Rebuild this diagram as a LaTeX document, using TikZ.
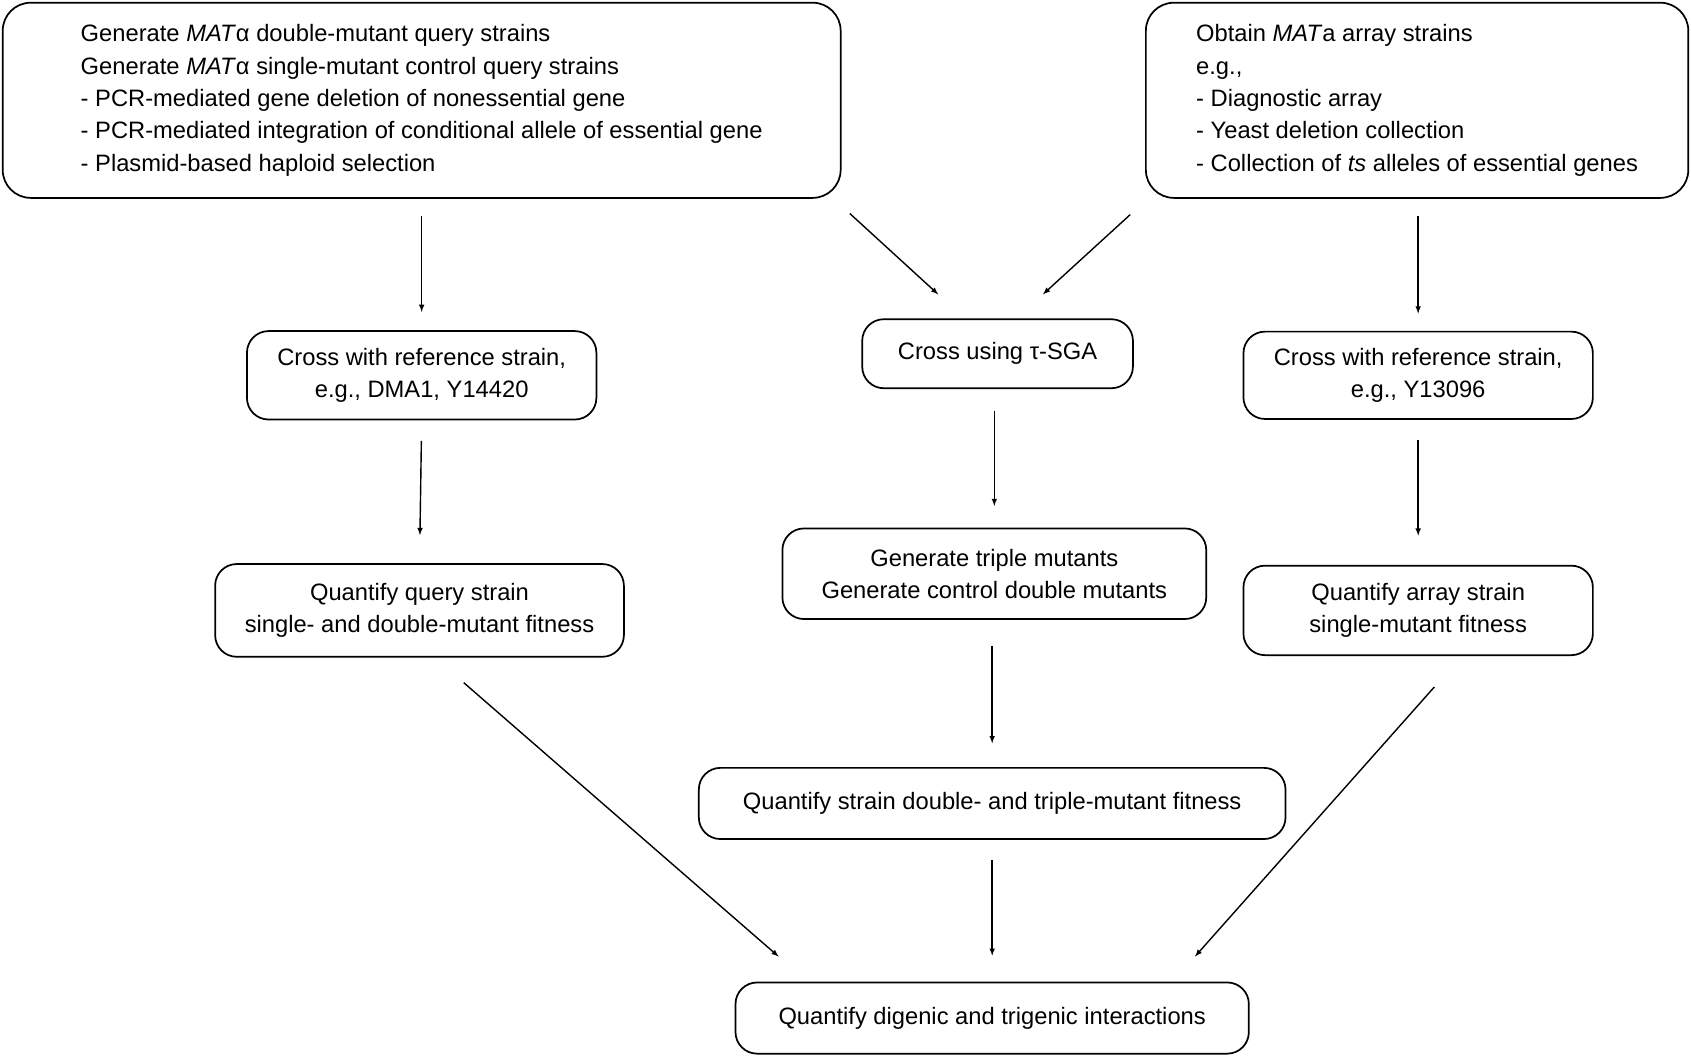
\documentclass[tikz,border=0pt]{standalone}
\usepackage{fontspec}
\setmainfont{Liberation Sans}
\usetikzlibrary{arrows}
\tikzset{box/.style={draw, line width=1.6pt, rounded corners=20pt, inner sep=0pt, align=center,
  font=\fontsize{22}{30}\selectfont}}
\tikzset{next/.style={-latex, line width=1.3pt}}
\begin{document}
\begin{tikzpicture}[x=1pt, y=-1pt]
        \useasboundingbox (0,0) rectangle (1568,980);

        \node (genq) [box, rounded corners=26pt, minimum width=777pt, minimum height=181pt, align=left] at (391,93)
          {Generate \textit{MAT}α double-mutant query strains\\
           Generate \textit{MAT}α single-mutant control query strains\\
           - PCR-mediated gene deletion of nonessential gene\\
           - PCR-mediated integration of conditional allele of essential gene\\
           - Plasmid-based haploid selection};
        \node (arr) [box, rounded corners=26pt, minimum width=503pt, minimum height=181pt, align=left] at (1314,93)
          {Obtain \textit{MAT}a array strains\\
           e.g.,\\
           - Diagnostic array\\
           - Yeast deletion collection\\
           - Collection of \textit{ts} alleles of essential genes};

        \node (crossq) [box, minimum width=324pt, minimum height=82pt] at (391,348) {Cross with reference strain,\\e.g., DMA1, Y14420};
        \node (tsga) [box, minimum width=251pt, minimum height=64pt] at (925,328) {Cross using τ-SGA};
        \node (crossa) [box, minimum width=324pt, minimum height=81pt] at (1315,348) {Cross with reference strain,\\e.g., Y13096};

        \node (fitq) [box, minimum width=379pt, minimum height=86pt] at (389,566) {Quantify query strain\\single- and double-mutant fitness};
        \node (trip) [box, minimum width=393pt, minimum height=84pt] at (922,532) {Generate triple mutants\\Generate control double mutants};
        \node (fita) [box, minimum width=324pt, minimum height=83pt] at (1315,566) {Quantify array strain\\single-mutant fitness};

        \node (fitt) [box, minimum width=544pt, minimum height=66pt] at (920,745) {Quantify strain double- and triple-mutant fitness};
        \node (inter) [box, minimum width=476pt, minimum height=66pt] at (920,944) {Quantify digenic and trigenic interactions};

        % free ends of the slanted arrows
        \coordinate (qs) at (788,198);
        \coordinate (qe) at (870,273);
        \coordinate (as) at (1048,199);
        \coordinate (ae) at (967,273);
        \coordinate (ls) at (430,633);
        \coordinate (le) at (722,887);
        \coordinate (rs) at (1330,637);
        \coordinate (re) at (1108,887);

        \draw[next, shorten <=16pt, shorten >=17pt] (genq.south) -- (crossq.north);
        \draw[next, shorten <=19pt, shorten >=26pt] (crossq.south) -- (fitq.north);
        \draw[next, shorten <=16pt, shorten >=16pt] (arr.south -| crossa) -- (crossa.north);
        \draw[next, shorten <=19pt, shorten >=27pt] (crossa.south) -- (fita.north);
        \draw[next] (qs) -- (qe);
        \draw[next] (as) -- (ae);
        \draw[next, shorten <=20pt, shorten >=20pt] (tsga.south -| trip) -- (trip.north);
        \draw[next, shorten <=24pt, shorten >=22pt] (trip.south -| fitt) -- (fitt.north);
        \draw[next, shorten <=19pt, shorten >=24pt] (fitt.south) -- (inter.north);
        \draw[next] (ls) -- (le);
        \draw[next] (rs) -- (re);
\end{tikzpicture}
\end{document}
